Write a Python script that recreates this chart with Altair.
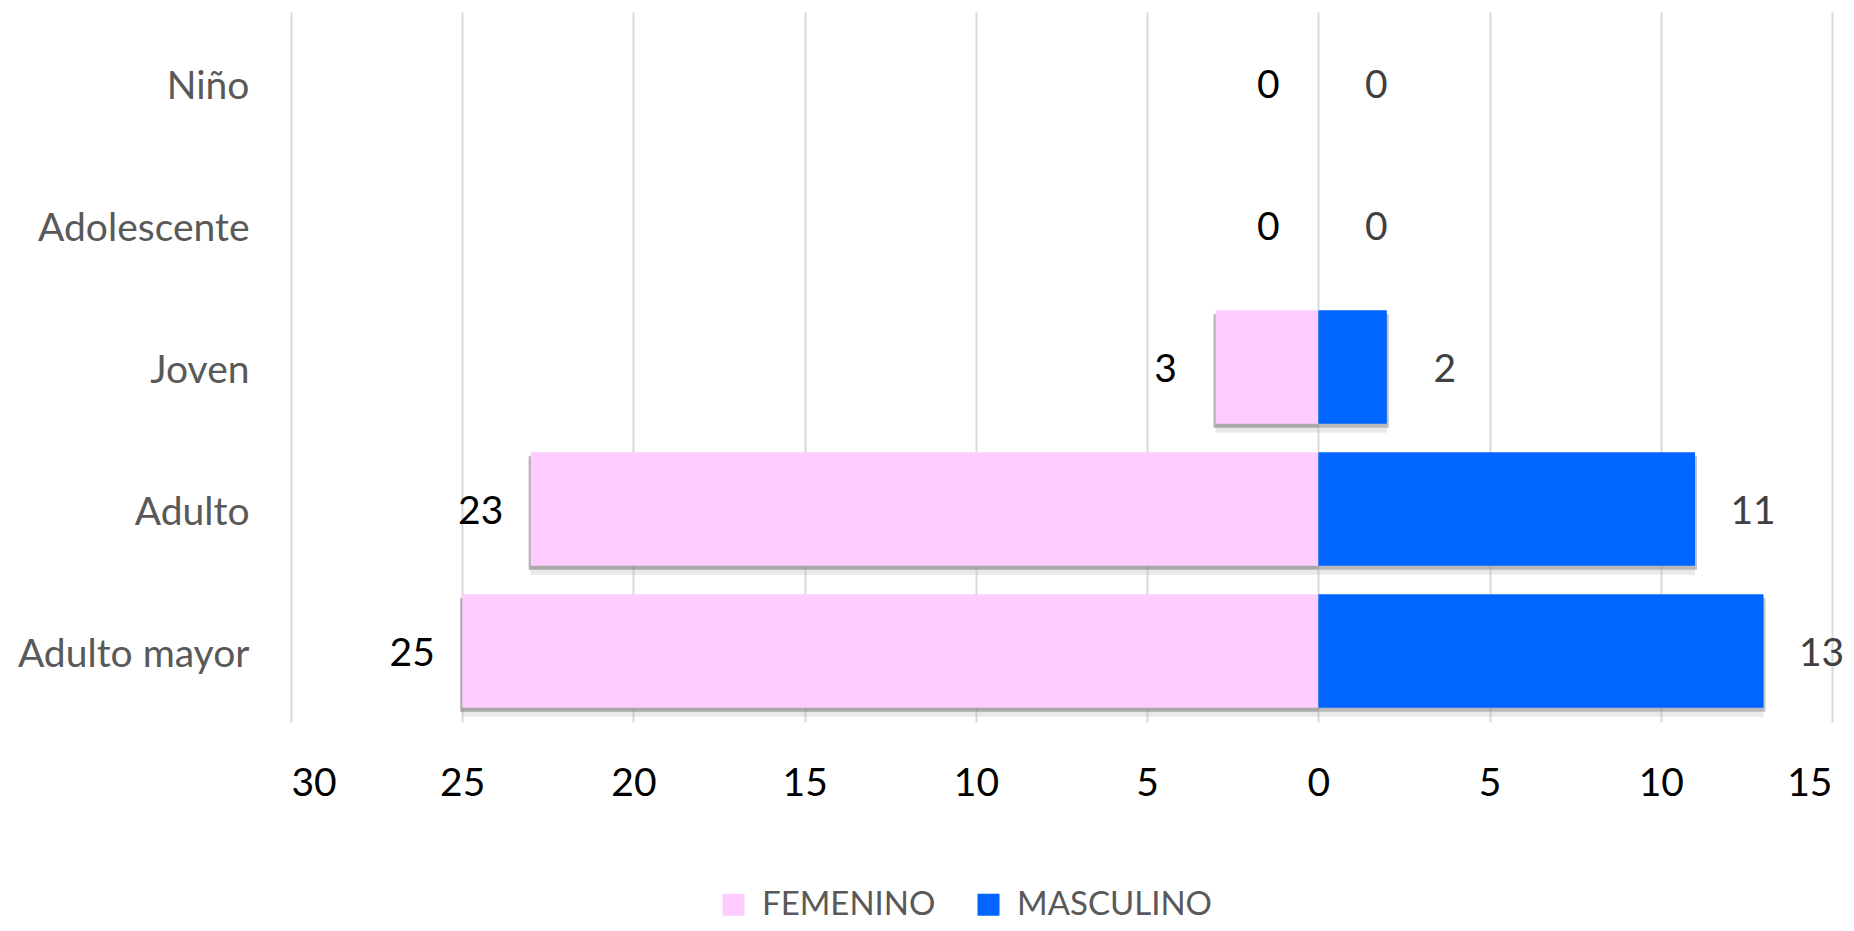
import altair as alt
import pandas as pd

categories = ["Niño", "Adolescente", "Joven", "Adulto", "Adulto mayor"]
femenino = [0, 0, 3, 23, 25]
masculino = [0, 0, 2, 11, 13]
series = ["FEMENINO", "MASCULINO"]
colors = ["#FFCCFF", "#0066FF"]
x_ticks = [-30, -25, -20, -15, -10, -5, 0, 5, 10, 15]

rows = []
for c, f, m in zip(categories, femenino, masculino):
    rows.append({"cat": c, "sexo": "FEMENINO", "value": f, "signed": -f})
    rows.append({"cat": c, "sexo": "MASCULINO", "value": m, "signed": m})
df = pd.DataFrame(rows)

FONT = "Lato"

xscale = alt.Scale(domain=[-30, 15], nice=False, zero=False)
yscale = alt.Scale(paddingInner=0.2, paddingOuter=0.1)

x_axis = alt.Axis(
    values=x_ticks, labelExpr="abs(datum.value)", title=None,
    grid=True, gridColor="#d9d9d9", gridWidth=2, domain=False, ticks=False,
    labelFont=FONT, labelFontSize=39, labelColor="#000000",
    labelPadding=61, labelBaseline="middle",
)
y_axis = alt.Axis(
    title=None, domain=False, ticks=False, grid=False,
    labelFont=FONT, labelFontSize=39, labelColor="#595959",
    labelPadding=42, labelAlign="right", labelLimit=400, labelOffset=4,
)

base = alt.Chart(df)

X = alt.X("signed:Q", scale=xscale, axis=x_axis, title=None)
Y = alt.Y("cat:N", sort=categories, scale=yscale, axis=y_axis, title=None)

nonzero = base.transform_filter(alt.datum.value > 0)

shadow_soft = nonzero.mark_bar(
    color="#bfbfbf", opacity=0.35, yOffset=9
).encode(x=X, x2=alt.datum(0), y=Y)
shadow_f = nonzero.transform_filter(alt.datum.sexo == "FEMENINO").mark_bar(
    color="#7f7f7f", opacity=0.6, yOffset=4, xOffset=-2
).encode(x=X, x2=alt.datum(0), y=Y)
shadow_m = nonzero.transform_filter(alt.datum.sexo == "MASCULINO").mark_bar(
    color="#7f7f7f", opacity=0.45, yOffset=4, xOffset=2
).encode(x=X, x2=alt.datum(0), y=Y)

bars = nonzero.mark_bar().encode(
    x=X,
    x2=alt.datum(0),
    y=Y,
    color=alt.Color(
        "sexo:N",
        scale=alt.Scale(domain=series, range=colors),
        legend=alt.Legend(
            orient="none", legendX=426, legendY=876, direction="horizontal",
            title=None, symbolType="square", symbolSize=484, symbolStrokeWidth=0,
            labelFont=FONT, labelFontSize=33, labelColor="#595959",
            columnPadding=36, labelOffset=12, labelLimit=400,
        ),
    ),
)

text_f = base.transform_filter(alt.datum.sexo == "FEMENINO").mark_text(
    dx=-50, dy=3, align="center", baseline="middle", font=FONT, fontSize=39, color="#000000"
).encode(x=X, y=Y, text="value:Q")
text_m = base.transform_filter(alt.datum.sexo == "MASCULINO").mark_text(
    dx=58, dy=3, align="center", baseline="middle", font=FONT, fontSize=39, color="#404040"
).encode(x=X, y=Y, text="value:Q")

chart = alt.layer(shadow_soft, shadow_f, shadow_m, bars, text_f, text_m).properties(
    width=1541, height=710,
    autosize=alt.AutoSizeParams(type="none"),
    padding={"left": 283, "top": 4, "right": 12, "bottom": 200},
).configure_view(stroke=None)

chart.save("out.html", embed_options={"renderer": "svg", "actions": False})
